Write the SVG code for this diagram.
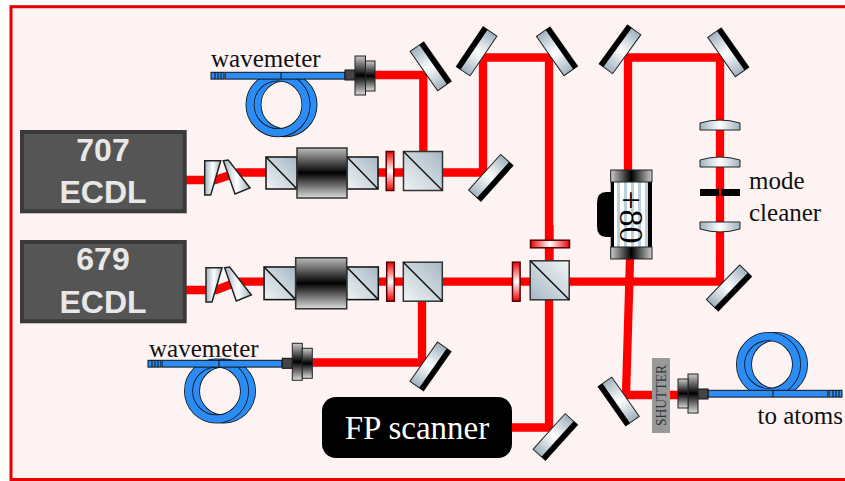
<svg xmlns="http://www.w3.org/2000/svg" width="845" height="481" viewBox="0 0 845 481">
<defs>
<style>
.beam{fill:none;stroke:#f00;stroke-width:8.300;stroke-linejoin:miter}
.t{font-family:"Liberation Serif",serif;fill:#111;font-size:25px}
.ecdl{font-family:"Liberation Sans",sans-serif;font-weight:bold;font-size:32px;fill:#e8e8e8;text-anchor:middle}
.box{fill:#555;stroke:#3a3a3a;stroke-width:4}
.k{stroke:#111;stroke-width:1.500}
.f{fill:#2b8cf5;stroke:#111;stroke-width:1}
.tick{stroke:#111;stroke-width:1;fill:none}
</style>
<linearGradient id="mg" x1="0" x2="1" y1="0" y2="0"><stop offset="0" stop-color="#9fb2bf"/><stop offset=".5" stop-color="#fff"/><stop offset="1" stop-color="#9fb2bf"/></linearGradient>
<linearGradient id="cube" x1="1" x2="0" y1="0" y2="1"><stop offset="0" stop-color="#a6b8c4"/><stop offset="1" stop-color="#f0f4f6"/></linearGradient>
<linearGradient id="cube2" x1="1" x2="0" y1="0" y2="1"><stop offset="0" stop-color="#f2f5f7"/><stop offset="1" stop-color="#a6b8c4"/></linearGradient>
<linearGradient id="iso" x1="0" x2="0" y1="0" y2="1"><stop offset="0" stop-color="#bbb"/><stop offset=".5" stop-color="#000"/><stop offset="1" stop-color="#ddd"/></linearGradient>
<linearGradient id="wpv" x1="0" x2="0" y1="0" y2="1"><stop offset="0" stop-color="#e00"/><stop offset=".5" stop-color="#fff"/><stop offset="1" stop-color="#e00"/></linearGradient>
<linearGradient id="wph" x1="0" x2="1" y1="0" y2="0"><stop offset="0" stop-color="#e00"/><stop offset=".5" stop-color="#fff"/><stop offset="1" stop-color="#e00"/></linearGradient>
<linearGradient id="aomend" x1="0" x2="1" y1="0" y2="0"><stop offset="0" stop-color="#ccc"/><stop offset=".5" stop-color="#000"/><stop offset="1" stop-color="#ccc"/></linearGradient>
<pattern id="stripes" width="7" height="10" patternUnits="userSpaceOnUse"><rect width="7" height="10" fill="#fff"/><rect x="1" width="3" height="10" fill="#bdd0de"/></pattern>
<g id="mirror"><rect x="-24" y="-8.300" width="48" height="16.600" fill="url(#mg)" stroke="#222" stroke-width="1"/><rect x="-24" y="-8.300" width="48" height="5.300" fill="#000"/></g>
<g id="prisms">
<path d="M204.700 160.700H220.700L210.700 195H204.700Z" fill="url(#mg)" stroke="#222" stroke-width="1.500"/>
<path d="M223.300 160.700L228.300 160L250 188L235 194Z" fill="url(#mg)" stroke="#222" stroke-width="1.500"/>
</g>
<g id="isolator">
<rect x="-56" y="-16" width="31" height="32" fill="url(#cube)" class="k"/><path d="M-56 -16L-25 16" class="k"/>
<rect x="25" y="-16" width="31" height="32" fill="url(#cube)" class="k"/><path d="M25 -16L56 16" class="k"/>
<rect x="-25" y="-25" width="50" height="50" fill="url(#iso)" stroke="#333" stroke-width="1.500"/>
</g>
<g id="pbs"><rect x="-19.500" y="-19.500" width="39" height="39" fill="url(#cube)" stroke="#333" stroke-width="1.500"/><path d="M-19.500 -19.500L19.500 19.500" stroke="#111" stroke-width="1.500"/></g>
<g id="pbsB"><rect x="-19.500" y="-19.500" width="39" height="39" fill="url(#cube2)" stroke="#333" stroke-width="1.500"/><path d="M-19.500 -19.500L19.500 19.500" stroke="#111" stroke-width="1.500"/></g>
<rect id="wpV" x="-3.800" y="-19.500" width="7.600" height="39" fill="url(#wpv)" stroke="#500" stroke-width="1.500"/>
<rect id="wpH" x="-19.500" y="-3.800" width="39" height="7.600" fill="url(#wph)" stroke="#500" stroke-width="1.500"/>
<g id="coil">
<circle cx="3.500" cy="0" r="28" fill="none" stroke="#111" stroke-width="9"/>
<circle cx="3.500" cy="0" r="28" fill="none" stroke="#2b8cf5" stroke-width="7.400"/>
<circle cx="-3.500" cy="0" r="28" fill="none" stroke="#111" stroke-width="9"/>
<circle cx="-3.500" cy="0" r="28" fill="none" stroke="#2b8cf5" stroke-width="7.400"/>
</g>
<linearGradient id="col" x1="0" x2="0" y1="0" y2="1"><stop offset="0" stop-color="#ccc"/><stop offset=".5" stop-color="#000"/><stop offset="1" stop-color="#ddd"/></linearGradient>
</defs>
<rect width="845" height="481" fill="#fff"/>
<rect x="11" y="6.700" width="840" height="472.800" fill="#fdf3f2" stroke="#e60000" stroke-width="3"/>
<g id="connectors">
<path class="beam" d="M186 180H215L238 172.500H270M374 172.500H483V57.500H549V427.500H510"/>
<path class="beam" d="M186 290H216L238 281.700H268M374 281.700H720V57.500H628V200L630 259L626 395H680"/>
<path class="beam" d="M372 75H423.300V155"/>
<path class="beam" d="M422 298V362.500H310"/>
<path class="beam" d="M549.500 225V262"/>
</g>
<g id="ecdl707"><rect class="box" x="22" y="132" width="162.700" height="79.300"/><text class="ecdl" x="103" y="161">707</text><text class="ecdl" x="103" y="203.300">ECDL</text></g>
<g id="ecdl679"><rect class="box" x="22" y="242" width="162.700" height="79.300"/><text class="ecdl" x="103" y="270">679</text><text class="ecdl" x="103" y="312.700">ECDL</text></g>
<g id="prisms707"><use href="#prisms"/></g>
<g id="prisms679"><use href="#prisms" transform="translate(1.300,107)"/></g>
<g id="isolator707"><use href="#isolator" transform="translate(322,173)"/></g>
<g id="isolator679"><use href="#isolator" transform="translate(321.200,283.300) scale(1.020)"/></g>
<g id="wp707"><use href="#wpV" transform="translate(390,171)"/></g>
<g id="wp679"><use href="#wpV" transform="translate(390.500,281.700)"/></g>
<g id="wp3"><use href="#wpV" transform="translate(516.300,281.700)"/></g>
<g id="wp4"><use href="#wpH" transform="translate(550,244)"/></g>
<g id="pbs1"><use href="#pbs" transform="translate(423,171)"/></g>
<g id="pbs2"><use href="#pbs" transform="translate(422.800,281.700)"/></g>
<g id="pbs3"><use href="#pbsB" transform="translate(549.700,280.300)"/></g>
<g id="m1"><use href="#mirror" transform="translate(430.700,66.300) rotate(55)"/></g>
<g id="m2"><use href="#mirror" transform="translate(476.600,51.300) rotate(-56)"/></g>
<g id="m3"><use href="#mirror" transform="translate(557,51.300) rotate(55)"/></g>
<g id="m4"><use href="#mirror" transform="translate(620,49.300) rotate(-54)"/></g>
<g id="m5"><use href="#mirror" transform="translate(728.300,52.300) rotate(55)"/></g>
<g id="m6"><use href="#mirror" transform="translate(490.800,177.800) rotate(132)"/></g>
<g id="m7"><use href="#mirror" transform="translate(729,288) rotate(134)"/></g>
<g id="m8"><use href="#mirror" transform="translate(430.500,366.400) rotate(125)"/></g>
<g id="m9"><use href="#mirror" transform="translate(555.300,437) rotate(132)"/></g>
<g id="m10"><use href="#mirror" transform="translate(618.700,401.500) rotate(235)"/></g>
<g id="aom">
<path d="M612 192H606Q597 192 597 203V226Q597 237 606 237H612Z" fill="#000"/>
<rect x="610.700" y="172" width="41.300" height="86" fill="#000"/>
<rect x="614" y="182" width="34" height="65" fill="url(#stripes)"/>
<rect x="610.700" y="170" width="41.300" height="12" fill="url(#aomend)" stroke="#222"/>
<rect x="610.700" y="247" width="41.300" height="12" fill="url(#aomend)" stroke="#222"/>
<text font-family="Liberation Serif,serif" font-size="34" fill="#000" text-anchor="middle" transform="translate(620,217) rotate(90)">+80</text>
</g>
<g id="lens1"><path d="M700 130V123Q720 117 740 123V130Z" fill="url(#mg)" stroke="#222"/></g>
<g id="lens2"><path d="M700 167V160Q720 154 740 160V167Z" fill="url(#mg)" stroke="#222"/></g>
<g id="slit"><rect x="700" y="189" width="19" height="7" fill="#000"/><rect x="721" y="189" width="19" height="7" fill="#000"/></g>
<g id="lens3"><path d="M700 222V229Q720 235 740 229V222Z" fill="url(#mg)" stroke="#222"/></g>
<g id="fiber-top">
<use href="#coil" transform="translate(281.500,104.700)"/>
<rect class="f" x="225" y="72.300" width="120" height="6.800"/>
<path class="tick" d="M281 72V79"/>
<rect class="f" x="211" y="72.300" width="13" height="6.800"/><path class="tick" d="M215 72V79M218 72V79M221 72V79"/>
<rect x="345" y="70" width="10" height="10" fill="#444" stroke="#111"/>
<rect x="355" y="56" width="10.500" height="39" fill="url(#col)" stroke="#222"/>
<rect x="365.500" y="61" width="9.500" height="30" fill="url(#col)" stroke="#222"/>
<text class="t" x="211" y="66.700">wavemeter</text>
</g>
<g id="fiber-mid">
<use href="#coil" transform="translate(220,391)"/>
<rect class="f" x="162" y="360.300" width="120" height="6.800"/>
<path class="tick" d="M219 360V367"/>
<rect class="f" x="148" y="360.300" width="13" height="6.800"/><path class="tick" d="M152 360V367M155 360V367M158 360V367"/>
<rect x="282.300" y="358.300" width="10" height="10" fill="#444" stroke="#111"/>
<rect x="292.300" y="343.300" width="10" height="37" fill="url(#col)" stroke="#222"/>
<rect x="302.300" y="348.300" width="10" height="30" fill="url(#col)" stroke="#222"/>
<text class="t" x="149" y="356.700">wavemeter</text>
</g>
<g id="shutter"><rect x="652" y="358" width="18" height="75" fill="#999"/><text font-family="Liberation Serif,serif" font-size="15" fill="#333" text-anchor="middle" textLength="61" lengthAdjust="spacingAndGlyphs" transform="translate(666,395.500) rotate(-90)">SHUTTER</text></g>
<g id="fiber-out">
<use href="#coil" transform="translate(772,364.500)"/>
<rect class="f" x="708" y="390.300" width="120" height="6.800"/>
<path class="tick" d="M773 390V397"/>
<rect class="f" x="829" y="390.300" width="13" height="6.800"/><path class="tick" d="M833 390V397M836 390V397M839 390V397"/>
<rect x="698" y="389" width="10" height="10" fill="#444" stroke="#111"/>
<rect x="688" y="374" width="10" height="39" fill="url(#col)" stroke="#222"/>
<rect x="678" y="379" width="10" height="29" fill="url(#col)" stroke="#222"/>
<text class="t" x="757.500" y="424">to atoms</text>
</g>
<g id="fp"><rect x="322" y="397" width="190" height="61" rx="14" fill="#000"/><text x="417" y="439" font-family="Liberation Serif,serif" font-size="33" fill="#fff" text-anchor="middle">FP scanner</text></g>
<g id="mc"><text class="t" x="749" y="189">mode</text><text class="t" x="749" y="221">cleaner</text></g>
</svg>
